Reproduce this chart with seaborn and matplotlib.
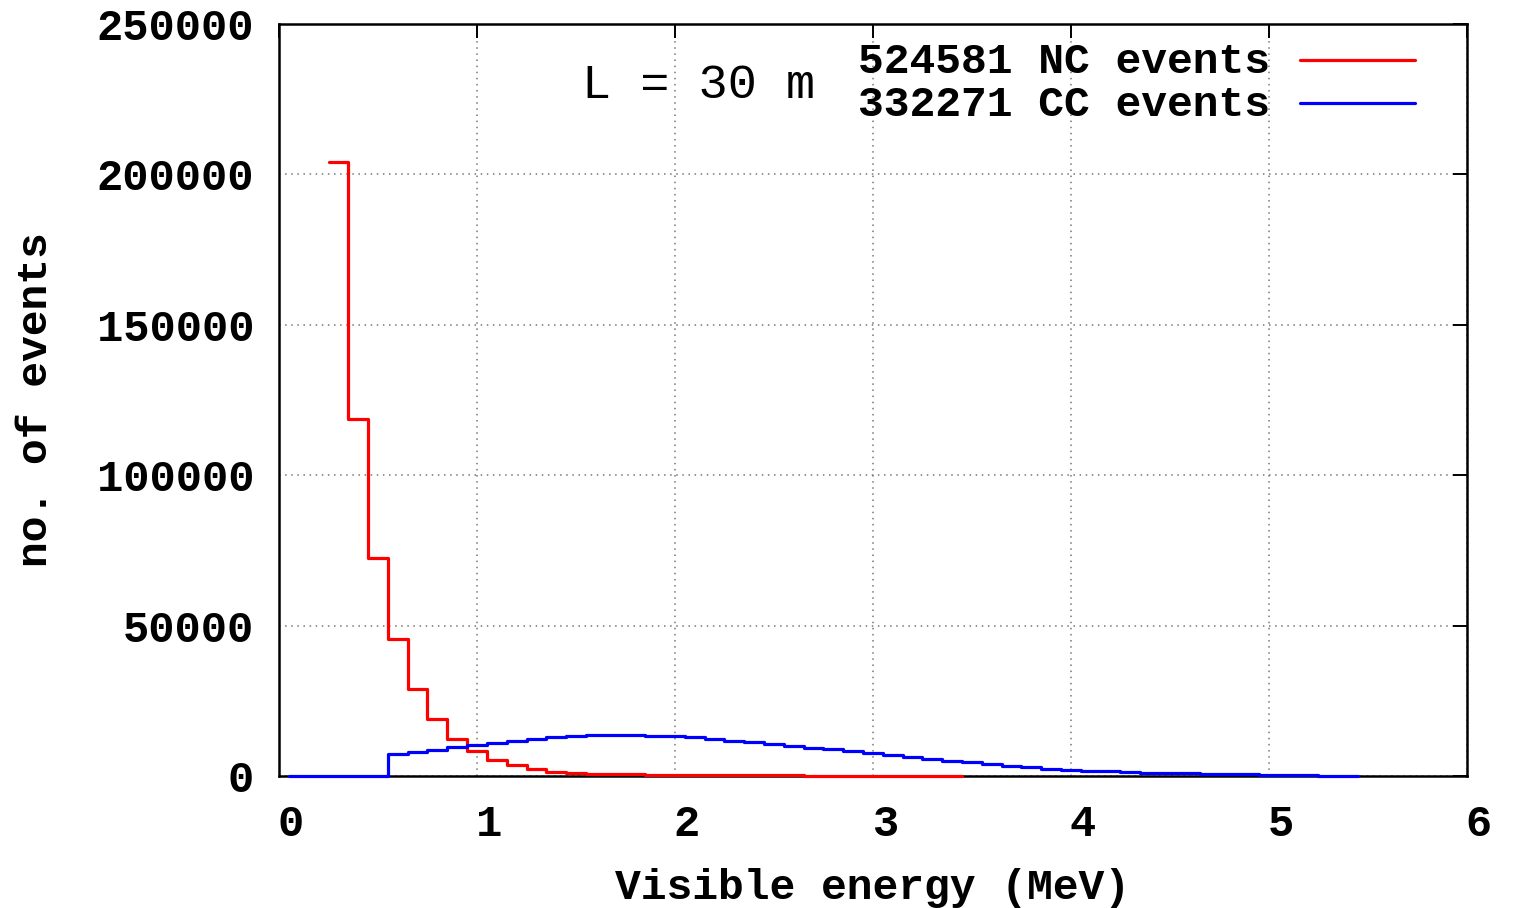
import numpy as np
import pandas as pd
import matplotlib
matplotlib.use("Agg")
import matplotlib.pyplot as plt
import matplotlib.transforms as mtransforms
import seaborn as sns

# ---- data (bin centres in MeV, counts per 0.1 MeV bin) ----
nc_energy = [0.3, 0.4, 0.5, 0.6, 0.7, 0.8, 0.9, 1.0, 1.1, 1.2, 1.3, 1.4, 1.5, 1.6,
             1.7, 1.8, 1.9, 2.0, 2.1, 2.2, 2.3, 2.4, 2.5, 2.6, 2.7, 2.8, 2.9, 3.0,
             3.1, 3.2, 3.3, 3.4]
nc_counts = [204000, 118600, 72400, 45500, 29000, 18900, 12300, 8300, 5200, 3500,
             2300, 1400, 1000, 800, 650, 550, 450, 400, 350, 300, 270, 230, 200,
             170, 150, 120, 100, 80, 60, 50, 40, 30]

cc_energy = [0.1, 0.2, 0.3, 0.4, 0.5, 0.6, 0.7, 0.8, 0.9, 1.0, 1.1, 1.2, 1.3, 1.4,
             1.5, 1.6, 1.7, 1.8, 1.9, 2.0, 2.1, 2.2, 2.3, 2.4, 2.5, 2.6, 2.7, 2.8,
             2.9, 3.0, 3.1, 3.2, 3.3, 3.4, 3.5, 3.6, 3.7, 3.8, 3.9, 4.0, 4.1, 4.2,
             4.3, 4.4, 4.5, 4.6, 4.7, 4.8, 4.9, 5.0, 5.1, 5.2, 5.3, 5.4]
cc_counts = [0, 0, 0, 0, 0, 7300, 7900, 8800, 9700, 10400, 11100, 11700, 12400,
             12900, 13300, 13500, 13600, 13500, 13400, 13300, 12850, 12300, 11700,
             11200, 10600, 10100, 9400, 8900, 8300, 7800, 7100, 6400, 5800, 5100,
             4650, 4100, 3400, 2900, 2400, 2100, 1800, 1550, 1300, 1100, 1000, 900,
             750, 650, 550, 450, 350, 250, 150, 100]

nc_label = "524581 NC events"
cc_label = "332271 CC events"
baseline_text = "L = 30 m"
x_ticks = [0, 1, 2, 3, 4, 5, 6]
y_ticks = [0, 50000, 100000, 150000, 200000, 250000]
x_title = "Visible energy (MeV)"
y_title = "no. of events"

sns.set_theme(style="white")
plt.rcParams["font.family"] = ["Liberation Mono", "DejaVu Sans Mono"]

W, H = 1516, 908
fig = plt.figure(figsize=(W / 100, H / 100), dpi=100)
L, R, T, B = 279, 1467, 24, 776
ax = fig.add_axes([L / W, 1 - B / H, (R - L) / W, (B - T) / H])

BIN = 0.1
df_nc = pd.DataFrame({"E": nc_energy, "n": nc_counts})
df_cc = pd.DataFrame({"E": cc_energy, "n": cc_counts})

sns.histplot(data=df_nc, x="E", weights="n", binwidth=BIN,
             binrange=(min(nc_energy) - BIN / 2, max(nc_energy) + BIN / 2),
             element="step", fill=False, color="#ff0000", linewidth=2.3,
             zorder=4, clip_on=False, ax=ax)
sns.histplot(data=df_cc, x="E", weights="n", binwidth=BIN,
             binrange=(min(cc_energy) - BIN / 2, max(cc_energy) + BIN / 2),
             element="step", fill=False, color="#0000ff", linewidth=2.3,
             zorder=5, clip_on=False, ax=ax)

ax.set_xlim(0, 6)
ax.set_ylim(0, 250000)
ax.set_xticks(x_ticks)
ax.set_yticks(y_ticks)
ax.set_xticklabels([str(v) for v in x_ticks])
ax.set_yticklabels([str(v) for v in y_ticks])

ax.grid(True, color="#777777", linestyle=(0, (1, 3)), linewidth=1.1)
ax.set_axisbelow(True)
for s in ax.spines.values():
    s.set_visible(True)
    s.set_color("black")
    s.set_linewidth(1.8)
    s.set_zorder(3)

ax.tick_params(axis="both", which="major", direction="in", length=10, width=1.4,
               color="black", top=True, right=True, labelsize=31.5)
ax.tick_params(axis="x", pad=20)
ax.tick_params(axis="y", pad=18)
for lab in ax.get_xticklabels() + ax.get_yticklabels():
    lab.set_fontweight("bold")
    lab.set_color("black")
off = mtransforms.ScaledTranslation(12 / 100, 0, fig.dpi_scale_trans)
for lab in ax.get_xticklabels():
    lab.set_transform(lab.get_transform() + off)

ax.set_xlabel(x_title, fontsize=31, fontweight="bold", color="black", labelpad=17)
ax.set_ylabel(y_title, fontsize=31, fontweight="bold", color="black", labelpad=29)


def ax_x(px):
    return (px - L) / (R - L)


def ax_y(py):
    return 1 - (py - T) / (B - T)


ax.text(ax_x(1270), ax_y(62), nc_label, transform=ax.transAxes, ha="right",
        va="center", fontsize=31, fontweight="bold", color="black")
ax.text(ax_x(1270), ax_y(105), cc_label, transform=ax.transAxes, ha="right",
        va="center", fontsize=31, fontweight="bold", color="black")
ax.plot([ax_x(1300), ax_x(1415)], [ax_y(60), ax_y(60)], transform=ax.transAxes,
        color="#ff0000", linewidth=2.3, clip_on=False)
ax.plot([ax_x(1300), ax_x(1415)], [ax_y(103), ax_y(103)], transform=ax.transAxes,
        color="#0000ff", linewidth=2.3, clip_on=False)
ax.text(ax_x(582), ax_y(85), baseline_text, transform=ax.transAxes, ha="left",
        va="center", fontsize=35, color="black")

fig.savefig("out.png", dpi=100, facecolor="white")
